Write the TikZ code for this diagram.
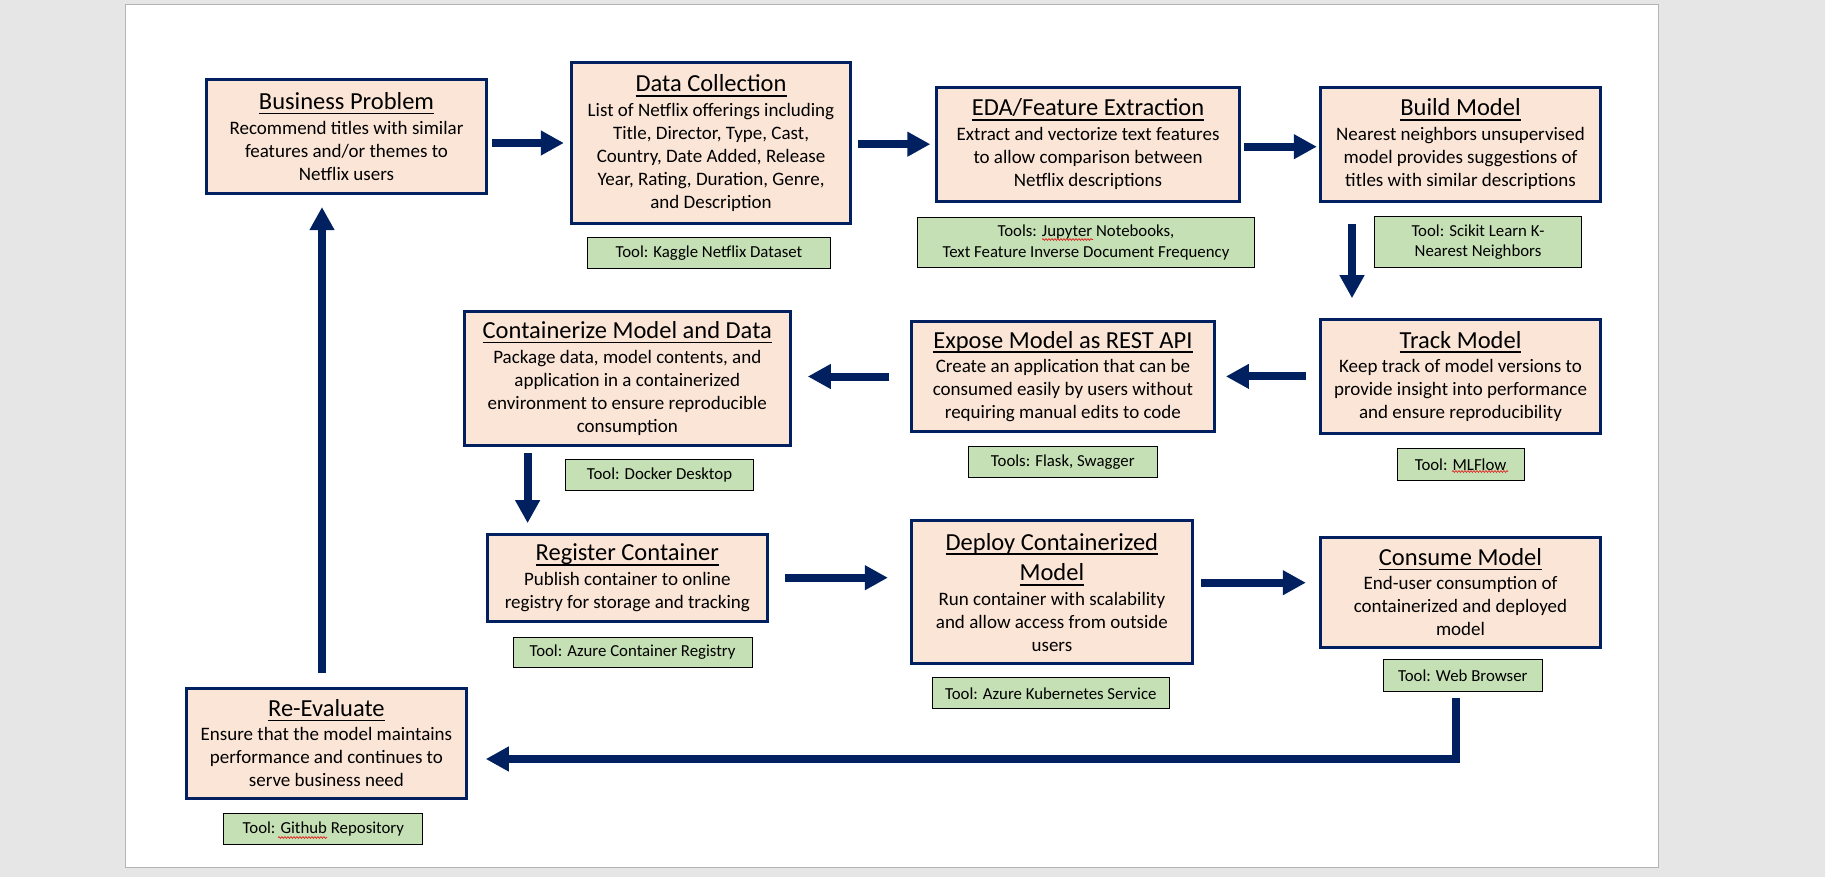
\documentclass[tikz,border=0pt]{standalone}
\usepackage{fontspec}
\setmainfont{Carlito}
\usetikzlibrary{arrows.meta,decorations.pathmorphing}
\definecolor{navy}{HTML}{002060}
\definecolor{peach}{HTML}{FBE5D6}
\definecolor{toolgreen}{HTML}{C5E0B4}
\definecolor{bggrey}{HTML}{E6E6E6}
\definecolor{pageedge}{HTML}{B4B4B4}
\definecolor{spellred}{HTML}{E02020}
\newcommand\ulttl[1]{\setbox0\hbox{#1}\rlap{\rule[-4.8pt]{\wd0}{1.7pt}}\box0}
\newcommand\ttl[1]{{\fontsize{24.5pt}{29.3pt}\selectfont\ulttl{#1}}}
\tikzset{
  procbox/.style 2 args={draw=navy, line width=3pt, fill=peach, inner sep=0pt, align=center,
    font=\fontsize{19pt}{23pt}\selectfont, minimum width=#1, minimum height=#2},
  toolbox/.style 2 args={draw=black, line width=0.9pt, fill=toolgreen, inner sep=0pt, align=center,
    font=\fontsize{16.8pt}{20.7pt}\selectfont, minimum width=#1, minimum height=#2},
  blk/.style={draw=navy, line width=8pt, line join=miter, -{Triangle[length=23pt,width=23.4pt]}},
  squiggle/.style={draw=spellred, line width=0.7pt, decorate, decoration={snake, segment length=3pt, amplitude=0.9pt}}
}
\begin{document}
\begin{tikzpicture}[x=1pt,y=-1pt]
\useasboundingbox (0,0) rectangle (1825,877);
\fill[bggrey] (0,0) rectangle (1825,877);
\draw[pageedge, fill=white, line width=1pt] (125.8,4.8) rectangle (1658.8,867.8);

% process boxes
\node[procbox={280.25pt}{114.25pt}] (bp) at (346.5,136.5)
  {\ttl{Business Problem}\\[1.5pt] Recommend titles with similar\\ features and/or themes to\\ Netflix users};
\node[procbox={279.25pt}{161.25pt}] (dc) at (711,143)
  {\ttl{Data Collection}\\[1.5pt] List of Netflix offerings including\\ Title, Director, Type, Cast,\\ Country, Date Added, Release\\ Year, Rating, Duration, Genre,\\ and Description};
\node[procbox={303.25pt}{114.25pt}] (eda) at (1088,144.2)
  {\ttl{EDA/Feature Extraction}\\[1.5pt] Extract and vectorize text features\\ to allow comparison between\\ Netflix descriptions};
\node[procbox={280.25pt}{114.25pt}] (build) at (1460.5,144.2)
  {\ttl{Build Model}\\[1.5pt] Nearest neighbors unsupervised\\ model provides suggestions of\\ titles with similar descriptions};
\node[procbox={280.25pt}{114.5pt}] (track) at (1460.5,376.4)
  {\ttl{Track Model}\\[1.5pt] Keep track of model versions to\\ provide insight into performance\\ and ensure reproducibility};
\node[procbox={303pt}{110.9pt}] (expose) at (1062.9,376.5)
  {\ttl{Expose Model as REST API}\\[1.5pt] Create an application that can be\\ consumed easily by users without\\ requiring manual edits to code};
\node[procbox={325.75pt}{134pt}] (cont) at (627.3,378.3)
  {\ttl{Containerize Model and Data}\\[1.5pt] Package data, model contents, and\\ application in a containerized\\ environment to ensure reproducible\\ consumption};
\node[procbox={279.9pt}{87.25pt}] (reg) at (627.3,577.7)
  {\ttl{Register Container}\\[1.5pt] Publish container to online\\ registry for storage and tracking};
\node[procbox={281pt}{143pt}] (deploy) at (1051.9,592.2)
  {\ttl{Deploy Containerized}\\[7.7pt]\ttl{Model}\\[1.5pt] Run container with scalability\\ and allow access from outside\\ users};
\node[procbox={280.25pt}{110.6pt}] (consume) at (1460.5,592.3)
  {\ttl{Consume Model}\\[1.5pt] End-user consumption of\\ containerized and deployed\\ model};
\node[procbox={280.5pt}{110.6pt}] (re) at (326.4,743.3)
  {\ttl{Re-Evaluate}\\[1.5pt] Ensure that the model maintains\\ performance and continues to\\ serve business need};

% tool boxes
\node[toolbox={243pt}{31pt}] (tkag) at (709,253) {Tool: Kaggle Netflix Dataset};
\node[toolbox={337pt}{50.7pt}] (tjup) at (1086,242.5) {Tools: Jupyter Notebooks,\\ Text Feature Inverse Document Frequency};
\node[toolbox={207pt}{51.7pt}] (tsci) at (1478,242) {Tool: Scikit Learn K-\\ Nearest Neighbors};
\node[toolbox={188pt}{31pt}] (tdock) at (659.5,475.3) {Tool: Docker Desktop};
\node[toolbox={188.7pt}{31pt}] (tflask) at (1062.8,462.3) {Tools: Flask, Swagger};
\node[toolbox={127pt}{31.5pt}] (tml) at (1460.6,464.5) {Tool: MLFlow};
\node[toolbox={239pt}{30.7pt}] (tacr) at (632.5,652.5) {Tool: Azure Container Registry};
\node[toolbox={237.5pt}{31pt}] (taks) at (1050.8,693.3) {Tool: Azure Kubernetes Service};
\node[toolbox={158.7pt}{31.5pt}] (tweb) at (1462.8,675.5) {Tool: Web Browser};
\node[toolbox={199pt}{31pt}] (tgit) at (323.4,829.3) {Tool: Github Repository};

% spell-check marks
\draw[squiggle] (1042,239.5) -- (1093,239.5);
\draw[squiggle] (1452,471.5) -- (1508,471.5);
\draw[squiggle] (278,837.5) -- (327,837.5);

% connectors
\draw[blk, shorten <=4pt, shorten >=6pt] (bp.east |- dc.west) -- (dc.west);
\draw[blk, shorten <=6pt, shorten >=4.5pt] (dc.east |- eda.west) -- (eda.west);
\draw[blk, shorten <=3pt, shorten >=2pt] ([yshift=-2.5pt]eda.east) -- ([yshift=-2.5pt]build.west);
\draw[blk, shorten <=21.3pt, shorten >=19.4pt] ([xshift=-108.5pt]build.south) -- ([xshift=-108.5pt]track.north);
\draw[blk, shorten <=13pt, shorten >=10pt] (track.west) -- (track.west -| expose.east);
\draw[blk, shorten <=20.6pt, shorten >=16.1pt] (expose.west) -- (expose.west -| cont.east);
\draw[blk, shorten <=6.6pt, shorten >=9.4pt] ([xshift=-99.7pt]cont.south) -- ([xshift=-99.7pt]reg.north);
\draw[blk, shorten <=16pt, shorten >=22pt] (reg.east) -- (reg.east -| deploy.west);
\draw[blk, shorten <=7.2pt, shorten >=13pt] ([yshift=9.5pt]deploy.east) -- ([yshift=9.5pt]deploy.east -| consume.west);
\draw[blk, shorten <=6.1pt, shorten >=17.6pt] ([xshift=-6.8pt]tweb.south) |- ([yshift=-15.7pt]re.east);
\draw[blk, shorten <=13.2pt, shorten >=11.9pt] ([xshift=-4.4pt]re.north) -- ([xshift=-4.4pt]re.north |- bp.south);
\end{tikzpicture}
\end{document}
